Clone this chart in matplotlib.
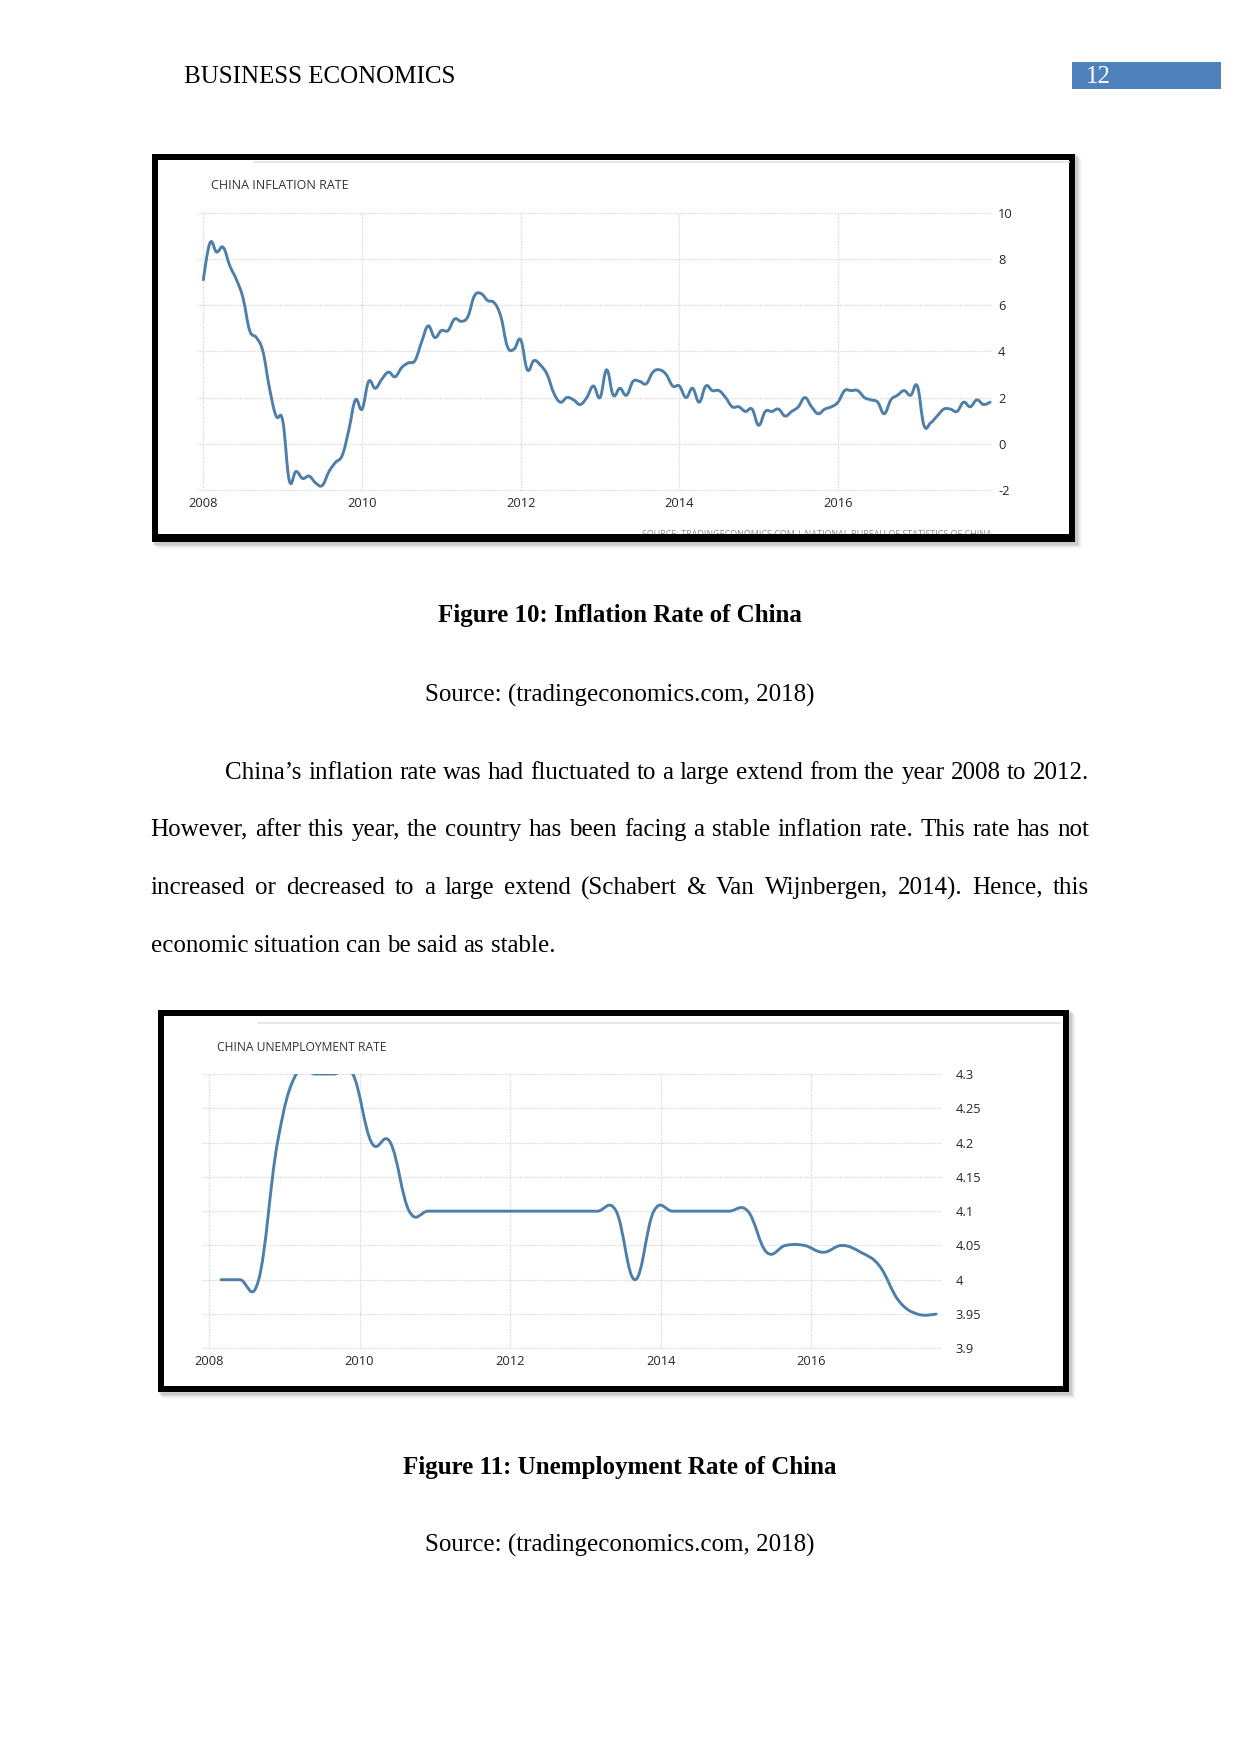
import math
import matplotlib
matplotlib.use("Agg")
import matplotlib.pyplot as plt
from matplotlib.patches import Rectangle, PathPatch
from matplotlib.path import Path
from matplotlib.transforms import Bbox
from matplotlib.lines import Line2D

# ---------------- data ----------------
infl_start_year = 2008
inflation = [
    7.1, 8.7, 8.3, 8.5, 7.7, 7.1, 6.3, 4.9, 4.6, 4.0, 2.4, 1.2,      # 2008
    1.0, -1.6, -1.2, -1.5, -1.4, -1.7, -1.8, -1.2, -0.8, -0.5, 0.6, 1.9,  # 2009
    1.5, 2.7, 2.4, 2.8, 3.1, 2.9, 3.3, 3.5, 3.6, 4.4, 5.1, 4.6,      # 2010
    4.9, 4.9, 5.4, 5.3, 5.5, 6.4, 6.5, 6.2, 6.1, 5.5, 4.2, 4.1,      # 2011
    4.5, 3.2, 3.6, 3.4, 3.0, 2.2, 1.8, 2.0, 1.9, 1.7, 2.0, 2.5,      # 2012
    2.0, 3.2, 2.1, 2.4, 2.1, 2.7, 2.7, 2.6, 3.1, 3.2, 3.0, 2.5,      # 2013
    2.5, 2.0, 2.4, 1.8, 2.5, 2.3, 2.3, 2.0, 1.6, 1.6, 1.4, 1.5,      # 2014
    0.8, 1.4, 1.4, 1.5, 1.2, 1.4, 1.6, 2.0, 1.6, 1.3, 1.5, 1.6,      # 2015
    1.8, 2.3, 2.3, 2.3, 2.0, 1.9, 1.8, 1.3, 1.9, 2.1, 2.3, 2.1,      # 2016
    2.5, 0.8, 0.9, 1.2, 1.5, 1.5, 1.4, 1.8, 1.6, 1.9, 1.7, 1.8,      # 2017
]
unemp_start_year = 2008
unemployment = [
    4.0, 4.0, 4.0, 4.2,      # 2008
    4.3, 4.3, 4.3, 4.3,      # 2009
    4.2, 4.2, 4.1, 4.1,      # 2010
    4.1, 4.1, 4.1, 4.1,      # 2011
    4.1, 4.1, 4.1, 4.1,      # 2012
    4.1, 4.1, 4.0, 4.1,      # 2013
    4.1, 4.1, 4.1, 4.1,      # 2014
    4.1, 4.04, 4.05, 4.05,   # 2015
    4.04, 4.05, 4.04, 4.02,  # 2016
    3.97, 3.95, 3.95,        # 2017
]
year_ticks = [2008, 2010, 2012, 2014, 2016]
infl_yticks = [-2, 0, 2, 4, 6, 8, 10]
unemp_yticks = [3.9, 3.95, 4.0, 4.05, 4.1, 4.15, 4.2, 4.25, 4.3]
unemp_ylabels = ["3.9", "3.95", "4", "4.05", "4.1", "4.15", "4.2", "4.25", "4.3"]

header = "BUSINESS ECONOMICS"
page_no = "12"
fig10_caption = "Figure 10: Inflation Rate of China"
fig11_caption = "Figure 11: Unemployment Rate of China"
source_caption = "Source: (tradingeconomics.com, 2018)"
paragraph = [
    "China\u2019s inflation rate was had fluctuated to a large extend from the year 2008 to 2012.",
    "However, after this year, the country has been facing a stable inflation rate. This rate has not",
    "increased or decreased to a large extend (Schabert & Van Wijnbergen, 2014). Hence, this",
    "economic situation can be said as stable.",
]

# ---------------- page setup ----------------
W, H, DPI = 1241, 1754, 150
fig = plt.figure(figsize=(W / DPI, H / DPI), dpi=DPI)
fig.patch.set_facecolor("white")
SERIF = "Liberation Serif"
SANS = "Open Sans"
LINE_COLOR = "#4d7faa"
TICK_COLOR = "#262626"


def fx(px):
    return px / W


def fy(py):
    return 1 - py / H


def frect(x0, y0, x1, y1):
    return [x0 / W, 1 - y1 / H, (x1 - x0) / W, (y1 - y0) / H]


def add_rect(x0, y0, x1, y1, **kw):
    r = Rectangle((fx(x0), fy(y1)), (x1 - x0) / W, (y1 - y0) / H,
                  transform=fig.transFigure, **kw)
    fig.patches.append(r)
    return r


def spline_path(xs, ys, smoothing=1.5):
    n = len(xs)
    denom = smoothing + 1
    lc = [(x, y) for x, y in zip(xs, ys)]
    rc = list(lc)
    for i in range(1, n - 1):
        x, y = xs[i], ys[i]
        lx, ly = xs[i - 1], ys[i - 1]
        nx, ny = xs[i + 1], ys[i + 1]
        lcx = (smoothing * x + lx) / denom
        lcy = (smoothing * y + ly) / denom
        rcx = (smoothing * x + nx) / denom
        rcy = (smoothing * y + ny) / denom
        corr = (rcy - lcy) * (rcx - x) / (rcx - lcx) + y - rcy
        lc[i] = (lcx, lcy + corr)
        rc[i] = (rcx, rcy + corr)
    verts = [(xs[0], ys[0])]
    codes = [Path.MOVETO]
    for i in range(1, n):
        verts += [rc[i - 1], lc[i], (xs[i], ys[i])]
        codes += [Path.CURVE4] * 3
    return Path(verts, codes)


def frame(x0, y0, x1, y1, th_side, th_bottom):
    # soft shadow
    for k, a in zip(range(1, 6), [0.16, 0.12, 0.08, 0.05, 0.03]):
        add_rect(x0 + k, y0 + k, x1 + k + 2, y1 + k + 2, facecolor="#777777",
                 edgecolor="none", alpha=a, zorder=0)
    add_rect(x0, y0, x1, y1, facecolor="black", edgecolor="none", zorder=1)
    add_rect(x0 + th_side, y0 + th_side, x1 - th_side, y1 - th_bottom,
             facecolor="white", edgecolor="none", zorder=2)


def chart_axes(px_left, px_right, xref, yref, ylim):
    (xv0, xp0), (xv1, xp1) = xref
    (yv0, yp0), (yv1, yp1) = yref
    sx = (xp1 - xp0) / (xv1 - xv0)
    sy = (yp1 - yp0) / (yv1 - yv0)
    xl0 = xv0 + (px_left - xp0) / sx
    xl1 = xv0 + (px_right - xp0) / sx
    ptop = yp0 + (ylim[1] - yv0) * sy
    pbot = yp0 + (ylim[0] - yv0) * sy
    ax = fig.add_axes(frect(px_left, ptop, px_right, pbot))
    ax.set_xlim(xl0, xl1)
    ax.set_ylim(*ylim)
    ax.set_facecolor("none")
    for s in ax.spines.values():
        s.set_visible(False)
    ax.set_zorder(5)
    return ax


def style_axes(ax, yticks, ylabels, xpad, ypad):
    ax.set_xticks(year_ticks)
    ax.set_xticklabels([str(y) for y in year_ticks], fontfamily=SANS,
                       fontsize=6.2, color=TICK_COLOR)
    ax.yaxis.tick_right()
    ax.set_yticks(yticks)
    ax.set_yticklabels(ylabels, fontfamily=SANS, fontsize=6.2, color=TICK_COLOR)
    ax.tick_params(axis="both", length=0)
    ax.tick_params(axis="x", pad=xpad)
    ax.tick_params(axis="y", pad=ypad)
    ax.grid(True, color="#d6d6d6", linestyle=(0, (1, 1)), linewidth=0.6)
    for gl in ax.get_xgridlines() + ax.get_ygridlines():
        gl.set_clip_on(False)
    ax.set_axisbelow(True)


# ---------------- header ----------------
fig.text(fx(184.5), fy(82.7), header, fontfamily=SERIF, fontsize=12,
         color="black", va="baseline", ha="left")
add_rect(1071.5, 61.5, 1220.5, 88.5, facecolor="#4f81bd", edgecolor="none", zorder=1)
fig.text(fx(1086), fy(82.7), page_no, fontfamily=SERIF, fontsize=12,
         color="white", va="baseline", ha="left", zorder=3)

# ---------------- chart 1: inflation ----------------
frame(152, 154, 1075, 542, 6, 8)
fig.lines.append(Line2D([fx(254), fx(1069)], [fy(162), fy(162)],
                        transform=fig.transFigure, color="#e4e4e4", lw=0.8, zorder=3))
fig.text(fx(211), fy(189), "CHINA INFLATION RATE", fontfamily=SANS, fontsize=6.0,
         color="#333333", va="baseline", ha="left", zorder=6)

ax1 = chart_axes(197, 992, ((2008, 203.4), (2016, 838.0)),
                 ((10, 212.7), (-2, 490.0)), (-2, 10))
style_axes(ax1, infl_yticks, [str(v) for v in infl_yticks], xpad=3.3, ypad=2.9)
infl_x = [infl_start_year + i / 12 for i in range(len(inflation))]
ax1.add_patch(PathPatch(spline_path(infl_x, inflation), facecolor="none",
                        edgecolor=LINE_COLOR, lw=1.4, capstyle="round",
                        joinstyle="round", zorder=4))

src = fig.text(fx(642), fy(530.5),
               "SOURCE: TRADINGECONOMICS.COM | NATIONAL BUREAU OF STATISTICS OF CHINA",
               fontfamily=SANS, fontsize=4.3, color="#8a8a8a", va="top", ha="left",
               zorder=6)
src.set_clip_box(Bbox.from_extents(0, H - 534, W, H - 500))
src.set_clip_on(True)

# ---------------- chart 2: unemployment ----------------
frame(158, 1010, 1069, 1392, 6, 6)
fig.lines.append(Line2D([fx(258), fx(1060)], [fy(1023), fy(1023)],
                        transform=fig.transFigure, color="#e4e4e4", lw=0.8, zorder=3))
fig.text(fx(217), fy(1051), "CHINA UNEMPLOYMENT RATE", fontfamily=SANS, fontsize=5.8,
         color="#333333", va="baseline", ha="left", zorder=6)

ax2 = chart_axes(202, 941, ((2008, 209.0), (2016, 811.1)),
                 ((4.3, 1074.0), (3.9, 1348.3)), (3.9, 4.3))
style_axes(ax2, unemp_yticks, unemp_ylabels, xpad=3.4, ypad=7.0)
unemp_x = [unemp_start_year + 0.16 + 0.25 * i for i in range(len(unemployment))]
ax2.add_patch(PathPatch(spline_path(unemp_x, unemployment), facecolor="none",
                        edgecolor=LINE_COLOR, lw=1.4, capstyle="round",
                        joinstyle="round", zorder=4))

# ---------------- captions ----------------
fig.text(fx(620), fy(622), fig10_caption, fontfamily=SERIF, fontsize=12,
         fontweight="bold", ha="center", va="baseline")
fig.text(fx(620), fy(702), source_caption, fontfamily=SERIF, fontsize=12,
         ha="center", va="baseline")
fig.text(fx(620), fy(1474), fig11_caption, fontfamily=SERIF, fontsize=12,
         fontweight="bold", ha="center", va="baseline")
fig.text(fx(620), fy(1552), source_caption, fontfamily=SERIF, fontsize=12,
         ha="center", va="baseline")

# ---------------- justified paragraph ----------------
renderer = fig.canvas.get_renderer()
LEFT, RIGHT, INDENT = 150.5, 1089.0, 225.5
baselines = [779, 836.5, 894, 951.5]


def snapped_y(t, word, Y):
    """Return a y (page px from top) so the rasterised baseline lands on round(Y)."""
    try:
        from matplotlib.backends.backend_agg import get_hinting_flag
        font = renderer._prepare_font(t.get_fontproperties())
        font.set_text(word, 0, flags=get_hinting_flag())
        draw = font.get_descent()
        _, hraw = font.get_width_height()
        d = draw / 64.0
        ymax = (hraw - draw) / 64.0
        himg = hraw // 64 + 2
        T = round(Y)
        R = T - 1 + himg - (math.floor(ymax) + 1)
        return R - d
    except Exception:
        return Y


def draw_line(text, x0, x1, yb, justify):
    words = text.split(" ")
    objs = []
    widths = []
    for w in words:
        t = fig.text(0, fy(yb), w, fontfamily=SERIF, fontsize=12,
                     va="baseline", ha="left", color="black")
        widths.append(t.get_window_extent(renderer=renderer).width)
        objs.append(t)
    if justify and len(words) > 1:
        gap = (x1 - x0 - sum(widths)) / (len(words) - 1)
    else:
        sp = fig.text(0, 0, "a a", fontfamily=SERIF, fontsize=12)
        sp2 = fig.text(0, 0, "aa", fontfamily=SERIF, fontsize=12)
        gap = (sp.get_window_extent(renderer=renderer).width
               - sp2.get_window_extent(renderer=renderer).width)
        sp.remove()
        sp2.remove()
    x = x0
    for t, w, wdt in zip(objs, words, widths):
        t.set_x(fx(x))
        t.set_y(fy(snapped_y(t, w, yb)))
        x += wdt + gap


for i, line in enumerate(paragraph):
    x0 = INDENT if i == 0 else LEFT
    draw_line(line, x0, RIGHT, baselines[i], justify=(i < len(paragraph) - 1))

fig.savefig("out.png", dpi=DPI, facecolor="white")
